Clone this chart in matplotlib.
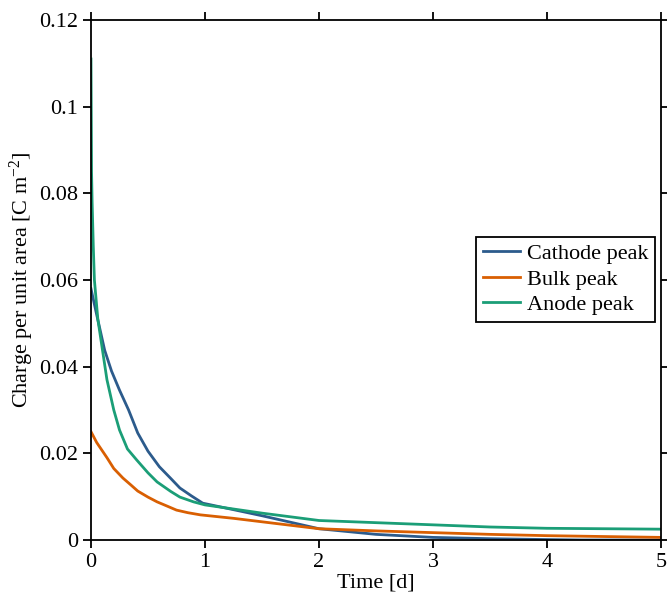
import numpy as np
import matplotlib
matplotlib.use("Agg")
import matplotlib.pyplot as plt
from matplotlib.ticker import FuncFormatter

plt.rcParams["font.family"] = ["Liberation Serif", "DejaVu Serif"]
plt.rcParams["mathtext.fontset"] = "custom"
plt.rcParams["mathtext.rm"] = "Liberation Serif"
plt.rcParams["mathtext.it"] = "Liberation Serif:italic"
plt.rcParams["font.size"] = 16

# Time [d] and charge per unit area [C m^-2]
t_cathode = [0, 0.05, 0.12, 0.18, 0.25, 0.33, 0.41, 0.5, 0.6, 0.7, 0.78, 0.88, 0.98, 1.25, 1.5, 1.75, 2.0, 2.5, 3.0, 3.5, 4.0, 4.3, 5.0]
cathode = [0.058, 0.052, 0.0438, 0.039, 0.0346, 0.030, 0.0247, 0.0205, 0.0169, 0.0142, 0.0120, 0.0102, 0.0085, 0.0070, 0.0056, 0.0041, 0.0026, 0.0013, 0.0006, 0.0003, 0.0001, 0.0, 0.0]

t_bulk = [0, 0.05, 0.14, 0.2, 0.28, 0.35, 0.41, 0.5, 0.58, 0.67, 0.75, 0.85, 0.96, 1.25, 1.5, 1.75, 2.0, 2.5, 3.0, 3.5, 4.0, 4.5, 5.0]
bulk = [0.025, 0.0225, 0.019, 0.0165, 0.0143, 0.0127, 0.0113, 0.0099, 0.0088, 0.0078, 0.0069, 0.0063, 0.0058, 0.0050, 0.0042, 0.0034, 0.0026, 0.0021, 0.0017, 0.0013, 0.0010, 0.0008, 0.0006]

t_anode = [0, 0.005, 0.01, 0.02, 0.03, 0.06, 0.1, 0.14, 0.2, 0.25, 0.32, 0.4, 0.5, 0.58, 0.7, 0.78, 0.9, 1.0, 1.5, 2.0, 2.5, 3.0, 3.5, 4.0, 4.5, 5.0]
anode = [0.111, 0.085, 0.078, 0.068, 0.060, 0.051, 0.044, 0.037, 0.030, 0.0254, 0.021, 0.0185, 0.0155, 0.0134, 0.0112, 0.0099, 0.0088, 0.0081, 0.0062, 0.0045, 0.0040, 0.0035, 0.0030, 0.0027, 0.0026, 0.0025]

fig = plt.figure(figsize=(6.67, 6.01), dpi=100)
ax = fig.add_axes([0.1364, 0.1015, 0.8546, 0.8652])

ax.plot(t_cathode, cathode, color="#2c5b8c", lw=2.0, label="Cathode peak")
ax.plot(t_bulk, bulk, color="#d95f02", lw=2.0, label="Bulk peak")
ax.plot(t_anode, anode, color="#1b9e77", lw=2.0, label="Anode peak")

ax.set_xlim(0, 5)
ax.set_ylim(0, 0.12)
ax.set_xticks(np.arange(0, 6, 1))
ax.set_yticks(np.arange(0, 0.121, 0.02))
ax.yaxis.set_major_formatter(FuncFormatter(lambda v, p: "%g" % round(v, 4)))
ax.tick_params(direction="out", length=6, width=1.3, top=True, right=True, labelsize=16)
for s in ax.spines.values():
    s.set_linewidth(1.3)

ax.set_xlabel("Time [d]", fontsize=16, labelpad=1)
ax.set_ylabel(r"Charge per unit area [C m$^{-2}$]", fontsize=16, labelpad=2)

leg = ax.legend(loc="upper right", bbox_to_anchor=(0.99, 0.583), fancybox=False,
                edgecolor="black", framealpha=1, handlelength=1.7, handletextpad=0.3,
                borderpad=0.3, labelspacing=0.22, borderaxespad=0, fontsize=16)
leg.get_frame().set_linewidth(1.3)

fig.savefig("out.png", dpi=100)
